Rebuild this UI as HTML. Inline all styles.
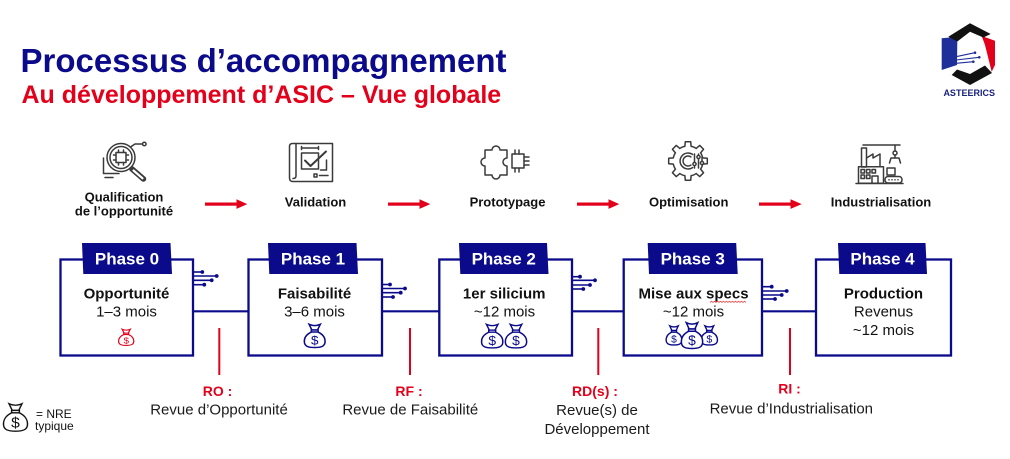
<!DOCTYPE html>
<html><head><meta charset="utf-8">
<style>
html,body{margin:0;padding:0;background:#fff;}
svg{display:block;}
text{font-family:"Liberation Sans",Arial,sans-serif;}
</style></head><body>
<svg width="1010" height="459" viewBox="0 0 1010 459" xmlns="http://www.w3.org/2000/svg">
<rect width="1010" height="459" fill="#fff"/>

<!-- Titles -->
<text x="20.5" y="72" font-size="33" font-weight="bold" fill="#0a0a8a">Processus d’accompagnement</text>
<text x="21.5" y="103" font-size="25" font-weight="bold" fill="#e3001b">Au développement d’ASIC – Vue globale</text>

<!-- Logo -->
<g>
  <polygon points="941.7,38.3 955,37 957.3,41 957,65 941.7,70" fill="#1f2f9a"/>
  <polygon points="981.7,36 995,40.7 995,65 991.7,71.7 985,45" fill="#e3001b"/>
  <polygon points="948.3,36.7 970,23.3 990.7,34 983.3,37.5 970,31.7 957.3,41.5" fill="#111"/>
  <polygon points="951.7,75 970,85 992,73 985,65.5 970,74 957,69.5" fill="#111"/>
  <g stroke="#1f2f9a" stroke-width="1.1">
    <line x1="956" y1="56.7" x2="975" y2="52.7"/>
    <line x1="956" y1="60" x2="979.3" y2="57.3"/>
    <line x1="956" y1="63.3" x2="973.3" y2="61.7"/>
  </g>
  <g fill="#1f2f9a">
    <circle cx="975" cy="52.7" r="1.3"/><circle cx="979.3" cy="57.3" r="1.3"/><circle cx="973.3" cy="61.7" r="1.3"/>
  </g>
  <text x="969.2" y="96" font-size="9" font-weight="bold" fill="#1a237e" text-anchor="middle">ASTEERICS</text>
</g>

<!-- Step icons -->
<g fill="none" stroke="#3a3a3a" stroke-width="1.5" stroke-linecap="round" stroke-linejoin="round">
  <!-- Qualification -->
  <circle cx="121" cy="157.5" r="14"/>
  <circle cx="121" cy="157.5" r="11"/>
  <rect x="116" y="152.5" width="10" height="10"/>
  <path d="M118.5,150 v2.5 M123.5,150 v2.5 M118.5,162.5 v2.5 M123.5,162.5 v2.5 M113.5,155 h2.5 M113.5,160 h2.5 M126,155 h2.5 M126,160 h2.5"/>
  <line x1="132" y1="169" x2="143.5" y2="179" stroke-width="5.5"/>
  <line x1="133.5" y1="170.5" x2="142.5" y2="178.3" stroke="#fff" stroke-width="2.2"/>
  <polyline points="130.5,147 135,144 142.5,144"/>
  <circle cx="144.3" cy="144" r="1.8"/>
  <polyline points="103.5,158 103.5,173.5 119,173.5"/>
  <line x1="105" y1="177.5" x2="113" y2="177.5"/>

  <!-- Validation -->
  <path d="M292.5,143.5 H332.5 V181.5 H293 Q289.5,181.5 289.5,178 V146.5 Q289.5,143.5 292.5,143.5 Z"/>
  <path d="M296,143.5 V176 Q296,178.5 293,178.5"/>
  <rect x="301.5" y="153" width="17" height="16"/>
  <polyline points="305,160.5 310.5,166 326,151.5" stroke-width="2"/>
  <path d="M301.5,148 H318.5 M301.5,146.5 v3 M318.5,146.5 v3"/>
  <rect x="314" y="174" width="3" height="3"/>
  <line x1="319.5" y1="175.5" x2="328" y2="175.5"/>
  <polyline points="326.5,160 326.5,170 320.5,170"/>

  <!-- Prototypage -->
  <path d="M485,150 H492 A4,4 0 1 1 500,150 H507 V158 A4,4 0 1 0 507,166 V175 H500 A4,4 0 1 1 492,175 H485 V166 A4,4 0 1 1 485,158 Z"/>
  <rect x="512" y="154" width="12" height="14"/>
  <path d="M524,157 h5 M524,161 h5 M524,165 h5 M515,150 v4 M519,150 v4 M515,168 v4 M519,168 v4"/>

  <!-- Optimisation gear -->
  <circle cx="688" cy="161" r="15"/>
  <g>
    <g transform="rotate(0 688 161)"><polygon points="702,157.5 707.5,158.3 707.5,163.7 702,164.5" fill="#fff" stroke="none"/><polyline points="702.67,157.88 707.31,158.29 707.31,163.71 702.67,164.12"/></g>
    <g transform="rotate(45 688 161)"><polygon points="702,157.5 707.5,158.3 707.5,163.7 702,164.5" fill="#fff" stroke="none"/><polyline points="702.67,157.88 707.31,158.29 707.31,163.71 702.67,164.12"/></g>
    <g transform="rotate(90 688 161)"><polygon points="702,157.5 707.5,158.3 707.5,163.7 702,164.5" fill="#fff" stroke="none"/><polyline points="702.67,157.88 707.31,158.29 707.31,163.71 702.67,164.12"/></g>
    <g transform="rotate(135 688 161)"><polygon points="702,157.5 707.5,158.3 707.5,163.7 702,164.5" fill="#fff" stroke="none"/><polyline points="702.67,157.88 707.31,158.29 707.31,163.71 702.67,164.12"/></g>
    <g transform="rotate(180 688 161)"><polygon points="702,157.5 707.5,158.3 707.5,163.7 702,164.5" fill="#fff" stroke="none"/><polyline points="702.67,157.88 707.31,158.29 707.31,163.71 702.67,164.12"/></g>
    <g transform="rotate(225 688 161)"><polygon points="702,157.5 707.5,158.3 707.5,163.7 702,164.5" fill="#fff" stroke="none"/><polyline points="702.67,157.88 707.31,158.29 707.31,163.71 702.67,164.12"/></g>
    <g transform="rotate(270 688 161)"><polygon points="702,157.5 707.5,158.3 707.5,163.7 702,164.5" fill="#fff" stroke="none"/><polyline points="702.67,157.88 707.31,158.29 707.31,163.71 702.67,164.12"/></g>
    <g transform="rotate(315 688 161)"><polygon points="702,157.5 707.5,158.3 707.5,163.7 702,164.5" fill="#fff" stroke="none"/><polyline points="702.67,157.88 707.31,158.29 707.31,163.71 702.67,164.12"/></g>
  </g>
  <path d="M692.6,154.4 A8,8 0 1 0 692.6,167.6"/>
  <path d="M690.9,156.9 A5,5 0 1 0 690.9,165.1"/>
  <line x1="694.5" y1="154" x2="694.5" y2="168"/>
  <line x1="698.5" y1="154" x2="698.5" y2="168"/>
  <line x1="702" y1="157" x2="702" y2="165"/>
  <circle cx="694.5" cy="164" r="1.6" fill="#fff"/>
  <circle cx="698.5" cy="157" r="1.6" fill="#fff"/>
  <circle cx="702" cy="163" r="1.6" fill="#fff"/>

  <!-- Industrialisation -->
  <line x1="863" y1="145" x2="900" y2="145"/>
  <rect x="861.5" y="148" width="5" height="19"/>
  <polyline points="866.5,158 873,154 873,158 880,154 880,166.7"/>
  <rect x="858.5" y="166.7" width="25" height="16.6"/>
  <rect x="861" y="169.5" width="3.5" height="3.5"/>
  <rect x="866.5" y="169.5" width="3.5" height="3.5"/>
  <rect x="872" y="169.5" width="3.5" height="3.5"/>
  <rect x="861" y="175" width="3.5" height="3.5"/>
  <rect x="866.5" y="175" width="3.5" height="3.5"/>
  <rect x="872" y="176" width="6" height="7.3"/>
  <line x1="895" y1="145" x2="895" y2="151"/>
  <circle cx="895" cy="153" r="2"/>
  <path d="M889.5,163 L891,158 L899,158 L900.5,163"/>
  <line x1="895" y1="155" x2="895" y2="158"/>
  <rect x="887" y="168" width="8" height="7"/>
  <rect x="885" y="176.5" width="17" height="6.5" rx="3"/>
  <line x1="856" y1="183.5" x2="903" y2="183.5"/>
</g>
<g fill="#3a3a3a">
  <circle cx="889" cy="179.8" r="0.8"/><circle cx="892" cy="179.8" r="0.8"/><circle cx="895" cy="179.8" r="0.8"/><circle cx="898" cy="179.8" r="0.8"/>
</g>

<!-- Step labels -->
<g font-size="13" font-weight="bold" fill="#111" text-anchor="middle">
  <text x="124" y="201.5">Qualification</text>
  <text x="124" y="215.5">de l’opportunité</text>
  <text x="315.5" y="206.5">Validation</text>
  <text x="507.5" y="206.5">Prototypage</text>
  <text x="688.7" y="206.5">Optimisation</text>
  <text x="881" y="206.5">Industrialisation</text>
</g>

<!-- Red arrows -->
<g fill="#e3001b">
  <rect x="205" y="202.5" width="33" height="3.2"/><polygon points="236.5,199.3 247.3,204.1 236.5,208.9"/>
  <rect x="388" y="202.5" width="33" height="3.2"/><polygon points="419.5,199.3 430.3,204.1 419.5,208.9"/>
  <rect x="577" y="202.5" width="33" height="3.2"/><polygon points="608.5,199.3 619.3,204.1 608.5,208.9"/>
  <rect x="759" y="202.5" width="33" height="3.2"/><polygon points="790.5,199.3 801.7,204.1 790.5,208.9"/>
</g>

<!-- Connectors between boxes -->
<g stroke="#0a0a8a" stroke-width="2.2">
  <line x1="193" y1="311.3" x2="249" y2="311.3"/>
  <line x1="382" y1="311.3" x2="440" y2="311.3"/>
  <line x1="572" y1="311.3" x2="624" y2="311.3"/>
  <line x1="762" y1="311.3" x2="817" y2="311.3"/>
</g>

<!-- Circuit lines -->
<g stroke="#0a0a8a" stroke-width="1.6">
  <line x1="193" y1="272" x2="202.3" y2="272"/>
  <line x1="193" y1="276" x2="216.7" y2="276"/>
  <line x1="193" y1="280.3" x2="211.7" y2="280.3"/>
  <line x1="193" y1="284.7" x2="204.3" y2="284.7"/>

  <line x1="382" y1="284.5" x2="390" y2="284.5"/>
  <line x1="382" y1="288.5" x2="405" y2="288.5"/>
  <line x1="382" y1="292.7" x2="400.7" y2="292.7"/>
  <line x1="382" y1="297" x2="393" y2="297"/>

  <line x1="572" y1="276.7" x2="580" y2="276.7"/>
  <line x1="572" y1="280.3" x2="595" y2="280.3"/>
  <line x1="572" y1="285" x2="590" y2="285"/>
  <line x1="572" y1="289" x2="583.3" y2="289"/>

  <line x1="762" y1="286.7" x2="771.7" y2="286.7"/>
  <line x1="762" y1="291" x2="786.7" y2="291"/>
  <line x1="762" y1="295" x2="781.7" y2="295"/>
  <line x1="762" y1="299" x2="775" y2="299"/>
</g>
<g fill="#0a0a8a">
  <circle cx="202.3" cy="272" r="1.9"/><circle cx="216.7" cy="276" r="1.9"/><circle cx="211.7" cy="280.3" r="1.9"/><circle cx="204.3" cy="284.7" r="1.9"/>
  <circle cx="390" cy="284.5" r="1.9"/><circle cx="405" cy="288.5" r="1.9"/><circle cx="400.7" cy="292.7" r="1.9"/><circle cx="393" cy="297" r="1.9"/>
  <circle cx="580" cy="276.7" r="1.9"/><circle cx="595" cy="280.3" r="1.9"/><circle cx="590" cy="285" r="1.9"/><circle cx="583.3" cy="289" r="1.9"/>
  <circle cx="771.7" cy="286.7" r="1.9"/><circle cx="786.7" cy="291" r="1.9"/><circle cx="781.7" cy="295" r="1.9"/><circle cx="775" cy="299" r="1.9"/>
</g>

<!-- Phase boxes -->
<g fill="#fff" stroke="#0a0a8a" stroke-width="2.3">
  <rect x="60.5" y="259.5" width="132.5" height="96"/>
  <rect x="248.5" y="259.5" width="133.5" height="96"/>
  <rect x="439.3" y="259.5" width="132.7" height="96"/>
  <rect x="623.7" y="259.5" width="138.3" height="96"/>
  <rect x="816" y="259.5" width="135" height="96"/>
</g>
<!-- Tabs -->
<g fill="#0a0a8a">
  <polygon points="82,243 170.5,243 172,274 83.3,274"/>
  <polygon points="268,243 356.5,243 358,274 269.3,274"/>
  <polygon points="459,243 547,243 548.5,274 460.3,274"/>
  <polygon points="647.7,243 736.2,243 737.7,274 649,274"/>
  <polygon points="838,243 925.5,243 927,274 839.3,274"/>
</g>
<g font-size="17" font-weight="bold" fill="#fff" text-anchor="middle">
  <text x="127" y="264.5">Phase 0</text>
  <text x="313" y="264.5">Phase 1</text>
  <text x="503.7" y="264.5">Phase 2</text>
  <text x="692.7" y="264.5">Phase 3</text>
  <text x="882.5" y="264.5">Phase 4</text>
</g>

<!-- Box contents -->
<g font-size="15" fill="#111" text-anchor="middle">
  <text x="126.5" y="298.3" font-weight="bold">Opportunité</text>
  <text x="126.5" y="316.7">1–3 mois</text>
  <text x="314.5" y="298.3" font-weight="bold">Faisabilité</text>
  <text x="314.5" y="316.7">3–6 mois</text>
  <text x="504.2" y="298.3" font-weight="bold">1er silicium</text>
  <text x="504.5" y="316.7">~12 mois</text>
  <text x="693.5" y="298.3" font-weight="bold">Mise aux specs</text>
  <text x="693.5" y="316.7">~12 mois</text>
  <text x="883.5" y="298.3" font-weight="bold">Production</text>
  <text x="883.5" y="316.7">Revenus</text>
  <text x="883.5" y="335">~12 mois</text>
</g>
<polyline points="710,302.4 711.5,301.2 713,302.4 714.5,301.2 716,302.4 717.5,301.2 719,302.4 720.5,301.2 722,302.4 723.5,301.2 725,302.4 726.5,301.2 728,302.4 729.5,301.2 731,302.4 732.5,301.2 734,302.4 735.5,301.2 737,302.4 738.5,301.2 740,302.4 741.5,301.2 743,302.4 744.5,301.2 746,302.4" fill="none" stroke="#e33" stroke-width="0.8"/>

<!-- Money bags -->
<g transform="translate(118,328.5) scale(0.82,0.72)" stroke="#e3001b" stroke-width="1.5" fill="#fff">
  <path d="M5,1 Q10,3.5 15,1 L12.5,6.5 L7.5,6.5 Z"/><rect x="7" y="6.5" width="6" height="2"/>
  <path d="M7,8.5 C2,11 0.5,15 0.8,18.5 C1.2,22.5 4.5,23.5 10,23.5 C15.5,23.5 18.8,22.5 19.2,18.5 C19.5,15 18,11 13,8.5 Z"/>
  <text x="10" y="20.5" font-size="12" text-anchor="middle" fill="#e3001b" stroke="none">$</text>
</g>
<g transform="translate(303.5,323.3) scale(1.12,1.03)" stroke="#0a0a8a" stroke-width="1.4" fill="#fff">
  <path d="M5,1 Q10,3.5 15,1 L12.5,6.5 L7.5,6.5 Z"/><rect x="7" y="6.5" width="6" height="2"/>
  <path d="M7,8.5 C2,11 0.5,15 0.8,18.5 C1.2,22.5 4.5,23.5 10,23.5 C15.5,23.5 18.8,22.5 19.2,18.5 C19.5,15 18,11 13,8.5 Z"/>
  <text x="10" y="20.5" font-size="12" text-anchor="middle" fill="#0a0a8a" stroke="none">$</text>
</g>
<g transform="translate(480.7,323.3) scale(1.15,1.05)" stroke="#0a0a8a" stroke-width="1.3" fill="#fff">
  <path d="M5,1 Q10,3.5 15,1 L12.5,6.5 L7.5,6.5 Z"/><rect x="7" y="6.5" width="6" height="2"/>
  <path d="M7,8.5 C2,11 0.5,15 0.8,18.5 C1.2,22.5 4.5,23.5 10,23.5 C15.5,23.5 18.8,22.5 19.2,18.5 C19.5,15 18,11 13,8.5 Z"/>
  <text x="10" y="20.5" font-size="12" text-anchor="middle" fill="#0a0a8a" stroke="none">$</text>
</g>
<g transform="translate(504.5,323.3) scale(1.15,1.05)" stroke="#0a0a8a" stroke-width="1.3" fill="#fff">
  <path d="M5,1 Q10,3.5 15,1 L12.5,6.5 L7.5,6.5 Z"/><rect x="7" y="6.5" width="6" height="2"/>
  <path d="M7,8.5 C2,11 0.5,15 0.8,18.5 C1.2,22.5 4.5,23.5 10,23.5 C15.5,23.5 18.8,22.5 19.2,18.5 C19.5,15 18,11 13,8.5 Z"/>
  <text x="10" y="20.5" font-size="12" text-anchor="middle" fill="#0a0a8a" stroke="none">$</text>
</g>
<g transform="translate(665.5,325) scale(0.85,0.85)" stroke="#0a0a8a" stroke-width="1.6" fill="#fff">
  <path d="M5,1 Q10,3.5 15,1 L12.5,6.5 L7.5,6.5 Z"/><rect x="7" y="6.5" width="6" height="2"/>
  <path d="M7,8.5 C2,11 0.5,15 0.8,18.5 C1.2,22.5 4.5,23.5 10,23.5 C15.5,23.5 18.8,22.5 19.2,18.5 C19.5,15 18,11 13,8.5 Z"/>
  <text x="10" y="20.5" font-size="12" text-anchor="middle" fill="#0a0a8a" stroke="none">$</text>
</g>
<g transform="translate(700.5,325) scale(0.88,0.85)" stroke="#0a0a8a" stroke-width="1.6" fill="#fff">
  <path d="M5,1 Q10,3.5 15,1 L12.5,6.5 L7.5,6.5 Z"/><rect x="7" y="6.5" width="6" height="2"/>
  <path d="M7,8.5 C2,11 0.5,15 0.8,18.5 C1.2,22.5 4.5,23.5 10,23.5 C15.5,23.5 18.8,22.5 19.2,18.5 C19.5,15 18,11 13,8.5 Z"/>
  <text x="10" y="20.5" font-size="12" text-anchor="middle" fill="#0a0a8a" stroke="none">$</text>
</g>
<g transform="translate(680.5,321.5) scale(1.15,1.15)" stroke="#0a0a8a" stroke-width="1.3" fill="#fff">
  <path d="M5,1 Q10,3.5 15,1 L12.5,6.5 L7.5,6.5 Z"/><rect x="7" y="6.5" width="6" height="2"/>
  <path d="M7,8.5 C2,11 0.5,15 0.8,18.5 C1.2,22.5 4.5,23.5 10,23.5 C15.5,23.5 18.8,22.5 19.2,18.5 C19.5,15 18,11 13,8.5 Z"/>
  <text x="10" y="20.5" font-size="12" text-anchor="middle" fill="#0a0a8a" stroke="none">$</text>
</g>

<!-- Review markers -->
<g stroke="#e3001b" stroke-width="2">
  <line x1="219.3" y1="328" x2="219.3" y2="375"/>
  <line x1="410" y1="328" x2="410" y2="375"/>
  <line x1="598.3" y1="328" x2="598.3" y2="375"/>
  <line x1="790" y1="328" x2="790" y2="375"/>
</g>
<g font-size="14" font-weight="bold" fill="#e3001b" text-anchor="middle">
  <text x="217.5" y="396">RO :</text>
  <text x="409" y="396">RF :</text>
  <text x="595" y="396">RD(s) :</text>
  <text x="789.5" y="393.3">RI :</text>
</g>
<g font-size="15" fill="#1a1a1a" text-anchor="middle">
  <text x="219" y="414.5">Revue d’Opportunité</text>
  <text x="410.3" y="414.5">Revue de Faisabilité</text>
  <text x="597" y="415">Revue(s) de</text>
  <text x="597" y="434">Développement</text>
  <text x="791.3" y="413.3">Revue d’Industrialisation</text>
</g>

<!-- Legend -->
<g transform="translate(2.5,402.5) scale(1.3,1.22)" stroke="#111" stroke-width="1.1" fill="#fff">
  <path d="M5,1 Q10,3.5 15,1 L12.5,6.5 L7.5,6.5 Z"/><rect x="7" y="6.5" width="6" height="2"/>
  <path d="M7,8.5 C2,11 0.5,15 0.8,18.5 C1.2,22.5 4.5,23.5 10,23.5 C15.5,23.5 18.8,22.5 19.2,18.5 C19.5,15 18,11 13,8.5 Z"/>
  <text x="10" y="20.5" font-size="12" text-anchor="middle" fill="#111" stroke="none">$</text>
</g>
<text x="36" y="418" font-size="12" fill="#111">= NRE</text>
<text x="35" y="430" font-size="12" fill="#111">typique</text>
</svg>
</body></html>
